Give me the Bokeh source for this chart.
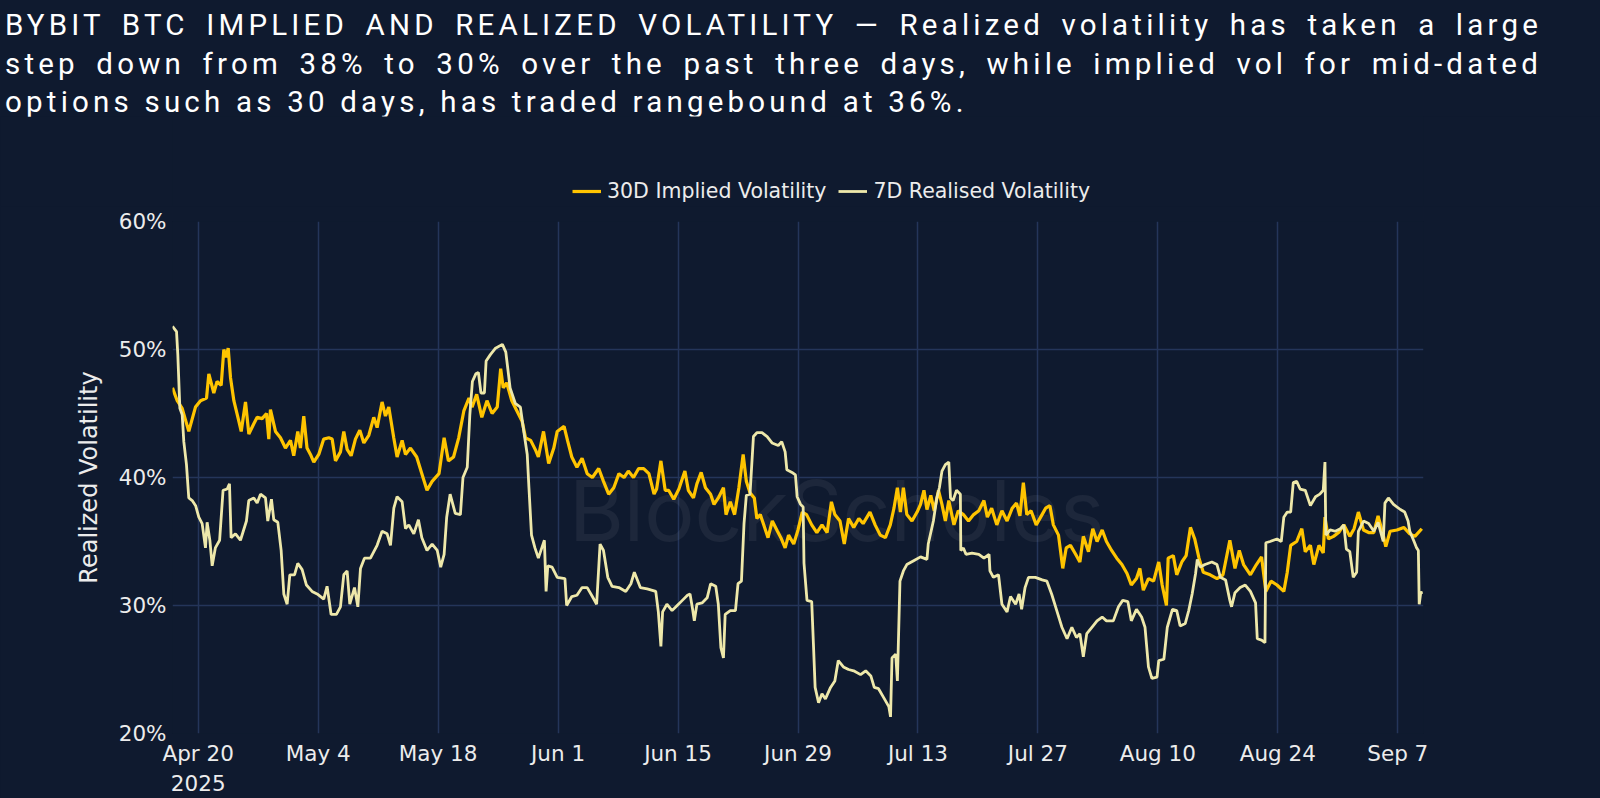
import pandas as pd

from bokeh.embed import file_html
from bokeh.layouts import column
from bokeh.models import (ColumnDataSource, Div, FixedTicker, GlobalInlineStyleSheet,
                          Label, Legend, LegendItem, PrintfTickFormatter, Range1d)
from bokeh.plotting import figure
from bokeh.resources import INLINE

# Series start (day offsets below are counted from here)
start_date = "2025-04-17"
end_date = "2025-09-10"

# 30D implied volatility (%)
iv_days = [0.0, 0.55, 1.13, 1.9, 2.68, 3.27, 3.97, 4.24, 4.82, 5.2, 5.68, 5.99, 6.26, 6.5, 6.77,
           7.16, 7.74, 8.02, 8.52, 8.91, 9.49, 9.88, 10.46, 10.97, 11.24, 11.43, 12.02, 12.6,
           13.18, 13.77, 14.15, 14.62, 14.93, 15.32, 15.7, 16.1, 16.49, 17.07, 17.65, 18.24,
           18.63, 19.02, 19.6, 19.99, 20.38, 20.85, 21.35, 21.86, 22.33, 22.91, 23.49, 23.88,
           24.46, 24.85, 25.24, 25.82, 26.21, 26.8, 27.19, 27.77, 28.5, 29.1, 29.7, 30.3, 31.1,
           31.7, 32.2, 32.8, 33.4, 34.0, 34.6, 34.96, 35.5, 36.1, 36.7, 37.3, 37.9, 38.3, 38.6,
           39.0, 39.6, 40.2, 40.8, 41.2, 41.8, 42.4, 42.7, 43.3, 43.9, 44.5, 44.9, 45.7, 46.1,
           46.6, 47.2, 47.8, 48.4, 49.0, 49.74, 50.3, 50.9, 51.5, 52.1, 52.7, 53.2, 53.8, 54.4,
           54.99, 55.6, 56.2, 56.5, 57.0, 57.5, 57.9, 58.5, 59.1, 59.8, 60.2, 60.8, 61.2, 61.7,
           62.2, 62.8, 63.2, 63.7, 64.3, 64.6, 65.1, 65.6, 66.1, 66.6, 66.97, 67.4, 67.9, 68.2,
           68.6, 69.0, 69.5, 70.0, 70.6, 71.0, 71.5, 71.9, 72.5, 73.0, 73.5, 74.0, 74.6, 75.2,
           75.8, 76.4, 76.9, 77.3, 77.9, 78.4, 78.9, 79.5, 80.1, 80.6, 81.4, 82.0, 82.6, 83.2,
           83.77, 84.2, 84.6, 84.95, 85.3, 85.7, 86.3, 86.9, 87.3, 87.7, 88.05, 88.5, 88.9, 89.4,
           89.8, 90.2, 90.6, 91.2, 91.7, 92.3, 92.9, 93.5, 94.1, 94.7, 95.1, 95.6, 96.2, 96.8,
           97.4, 98.0, 98.5, 98.9, 99.3, 99.7, 100.2, 100.8, 101.4, 101.9, 102.4, 102.8, 103.4,
           103.9, 104.3, 104.8, 105.4, 105.9, 106.3, 106.9, 107.4, 107.9, 108.5, 109.0, 109.6,
           110.2, 110.8, 111.4, 111.9, 112.5, 112.9, 113.3, 113.9, 114.5, 115.1, 115.5, 116.0,
           116.2, 116.8, 117.2, 117.8, 118.3, 118.8, 119.3, 119.8, 120.3, 121.1, 121.9, 122.6,
           123.4, 124.0, 124.5, 125.0, 125.8, 126.5, 127.1, 127.6, 128.2, 128.9, 129.7, 130.1,
           130.5, 131.2, 131.8, 132.2, 132.8, 133.2, 133.8, 134.3, 134.5, 134.9, 135.5, 136.1,
           136.7, 137.4, 137.9, 138.4, 139.0, 139.6, 140.2, 140.7, 141.3, 141.6, 142.1, 142.9,
           143.7, 144.4, 145.0, 145.8]
iv_vol = [47.0, 46.0, 45.4, 43.6, 45.5, 46.0, 46.2, 48.1, 46.6, 47.5, 47.2, 50.0, 49.4, 50.1, 47.8,
          46.0, 44.4, 43.6, 45.9, 43.4, 44.2, 44.7, 44.6, 45.0, 43.0, 45.3, 43.6, 43.1,
          42.3, 42.9, 41.7, 43.6, 42.3, 44.8, 42.3, 41.8, 41.2, 41.8, 43.0, 43.1,
          43.0, 41.3, 42.0, 43.6, 42.2, 41.7, 43.0, 43.7, 42.7, 43.3, 44.7, 43.9,
          45.9, 44.8, 45.5, 43.1, 41.6, 42.9, 41.8, 42.3, 41.6, 40.3, 39.0, 39.7, 40.3,
          43.1, 41.3, 41.6, 43.1, 45.2, 46.2, 45.5, 46.5, 44.7, 46.0, 45.0, 45.5, 48.5, 47.0,
          47.4, 46.0, 45.2, 44.4, 43.1, 42.9, 42.1, 41.6, 43.6, 41.1, 42.3, 43.6, 44.0, 42.9,
          41.6, 40.8, 41.5, 40.3, 40.0, 40.7, 39.7, 38.7, 39.2, 40.3, 40.0, 40.5, 40.0, 40.7,
          40.7, 40.3, 38.7, 39.1, 41.3, 39.0, 39.0, 38.3, 39.1, 40.5, 39.0, 38.4, 39.5, 40.4,
          39.2, 38.7, 37.9, 38.4, 39.2, 37.1, 38.1, 37.1, 39.2, 41.8, 39.7, 38.8, 38.4, 36.8,
          37.1, 36.3, 35.3, 36.6, 35.8, 35.3, 34.5, 35.5, 34.8, 35.9, 37.3, 37.1, 36.3, 35.7,
          36.3, 35.7, 38.1, 37.1, 36.6, 34.8, 36.8, 36.1, 36.8, 36.4, 37.3, 36.3, 35.5, 35.3,
          36.3, 37.6, 39.2, 37.3, 39.2, 37.1, 36.6, 37.3, 37.9, 39.0, 37.5, 38.6, 37.4, 39.0,
          37.9, 36.6, 38.2, 36.3, 37.4, 37.1, 36.6, 37.1, 37.4, 38.2, 36.9, 37.6, 36.3, 37.4,
          36.6, 37.6, 38.0, 37.0, 39.6, 37.1, 37.4, 36.3, 37.0, 37.6, 37.8, 36.3, 35.5,
          32.9, 34.5, 34.7, 34.0, 33.4, 35.4, 34.2, 36.0, 35.0, 35.9, 35.0, 34.3,
          33.7, 33.2, 32.5, 31.6, 32.1, 32.9, 31.2, 32.1, 31.9, 33.4, 31.6, 30.0,
          33.7, 33.9, 32.4, 33.4, 33.9, 36.1, 35.2, 33.7, 32.6, 32.4, 32.1, 32.4,
          35.1, 32.9, 34.3, 33.2, 32.4, 33.2, 33.8, 31.1, 31.9, 31.6, 31.1, 32.6,
          34.7, 35.0, 36.0, 34.2, 34.7, 33.2, 34.7, 34.1, 36.9, 35.2, 35.4, 35.7,
          36.3, 35.4, 36.0, 37.3, 35.9, 35.7, 35.7, 37.0, 35.5, 34.6, 35.8, 35.9,
          36.1, 35.6, 35.4, 36.0]

# 7D realised volatility (%)
rv_days = [0.0, 0.47, 0.62, 0.86, 1.13, 1.32, 1.63, 1.9, 2.3, 2.7, 3.07, 3.46, 3.85, 4.04, 4.36,
           4.63, 5.0, 5.5, 5.9, 6.38, 6.65, 6.84, 7.35, 7.93, 8.63, 8.9, 9.49, 9.88, 10.27,
           10.85, 11.12, 11.55, 11.82, 12.29, 12.68, 12.99, 13.38, 13.69, 14.24, 14.62, 15.13,
           15.63, 16.29, 16.88, 17.65, 18.04, 18.51, 19.13, 19.6, 19.99, 20.38, 20.69, 21.24,
           21.63, 21.94, 22.4, 23.1, 23.88, 24.46, 25.05, 25.44, 25.83, 26.21, 26.8, 27.19,
           27.58, 28.16, 28.7, 29.1, 29.7, 30.3, 30.9, 31.3, 31.7, 32.0, 32.4, 33.0, 33.6, 33.9,
           34.4, 34.7, 35.0, 35.4, 35.7, 36.0, 36.4, 36.6, 37.1, 37.7, 38.5, 38.9, 39.4, 40.0,
           40.6, 41.0, 41.4, 41.6, 41.9, 42.3, 42.7, 43.1, 43.4, 43.6, 43.8, 44.3, 44.9, 45.8,
           46.0, 46.6, 47.2, 47.8, 48.4, 49.0, 49.5, 49.9, 50.3, 50.8, 51.3, 52.1, 52.9, 53.5,
           53.9, 54.6, 55.4, 56.4, 56.7, 57.0, 57.2, 57.7, 58.3, 58.9, 59.5, 60.1, 60.4, 60.7,
           60.9, 61.2, 61.8, 62.4, 62.8, 63.4, 63.7, 64.0, 64.3, 64.5, 65.1, 65.7, 66.0, 66.4,
           66.7, 66.97, 67.4, 67.8, 68.2, 68.8, 69.4, 69.97, 70.7, 71.1, 71.5, 71.7, 72.3, 72.7,
           72.9, 73.3, 73.6, 73.7, 74.05, 74.6, 74.8, 75.0, 75.4, 75.8, 76.2, 76.8, 77.3, 77.7,
           78.3, 78.9, 79.5, 80.3, 80.9, 81.5, 81.9, 82.4, 83.0, 83.6, 83.8, 83.97, 84.4, 84.6,
           84.9, 85.3, 85.7, 86.5, 87.3, 88.05, 88.2, 88.8, 89.2, 89.5, 89.8, 90.2, 90.6, 90.8,
           91.1, 91.5, 91.95, 92.0, 92.3, 92.6, 93.3, 94.1, 94.7, 95.3, 95.4, 95.8, 96.4, 96.8,
           97.4, 97.8, 98.4, 98.8, 99.1, 99.5, 99.9, 100.7, 101.5, 102.05, 102.6, 103.2, 103.8,
           104.4, 104.96, 105.5, 105.9, 106.3, 106.7, 107.3, 107.9, 108.5, 109.0, 109.8, 110.4,
           110.9, 111.5, 111.9, 112.5, 113.1, 113.5, 113.9, 114.3, 114.9, 115.1, 115.7, 116.1,
           116.7, 117.2, 117.6, 118.2, 118.6, 119.0, 119.4, 119.6, 119.95, 120.5, 121.3, 121.9,
           122.3, 122.9, 123.4, 123.6, 124.0, 124.6, 125.2, 125.8, 126.4, 126.6, 127.1, 127.5,
           127.6, 128.1, 128.9, 129.4, 129.7, 130.1, 130.5, 130.8, 131.2, 131.6, 132.2, 132.8,
           133.4, 133.9, 134.3, 134.5, 134.6, 135.1, 135.7, 136.3, 136.7, 137.0, 137.4, 137.8,
           138.2, 138.4, 139.0, 139.6, 140.2, 140.7, 141.3, 141.5, 141.9, 142.5, 143.3, 143.8,
           144.2, 144.4, 144.9, 145.2, 145.4, 145.5, 145.7, 145.8]
rv_vol = [51.8, 51.4, 49.6, 45.4, 44.9, 42.8, 41.0, 38.4, 38.2, 37.8, 36.9, 36.4, 34.5, 36.5, 35.1,
          33.1, 34.5, 35.1, 39.0, 39.1, 39.5, 35.3, 35.6, 35.1, 36.6, 38.2, 38.4, 38.0, 38.7,
          38.4, 36.6, 38.3, 36.7, 36.5, 34.3, 30.9, 30.1, 32.4, 32.4, 33.3, 32.8,
          31.6, 31.1, 30.9, 30.5, 31.5, 29.3, 29.3, 29.9, 32.4, 32.7, 30.1, 31.4,
          29.9, 32.9, 33.7, 33.7, 34.7, 35.8, 35.6, 34.7, 37.6, 38.5, 38.1, 36.0,
          36.3, 35.6, 36.7, 35.3, 34.3, 34.8, 34.3, 33.0, 34.0, 36.9, 38.7, 37.2, 37.1, 40.0,
          40.8, 44.9, 47.5, 48.1, 48.2, 46.6, 46.6, 49.1, 49.6, 50.1, 50.4, 49.8, 47.0, 45.8,
          45.5, 43.6, 41.8, 39.2, 35.5, 34.5, 33.7, 34.5, 35.1, 31.1, 33.1, 33.0, 32.2, 32.1,
          30.0, 30.7, 30.8, 31.4, 31.4, 30.7, 30.1, 34.8, 34.3, 32.2, 31.5, 31.4, 31.1, 31.7,
          32.6, 31.4, 31.3, 31.1, 29.5, 26.8, 29.5, 30.1, 29.6, 30.0, 30.4, 30.8, 30.9, 29.7,
          28.8, 30.1, 30.2, 30.6, 31.7, 31.5, 30.1, 26.7, 25.9, 29.3, 29.6, 29.6, 31.7, 31.9,
          36.4, 38.6, 38.7, 43.2, 43.5, 43.5, 43.2, 42.7, 42.5, 42.8, 42.0, 40.6, 40.4, 40.2,
          38.5, 37.9, 37.7, 33.3, 30.4, 30.3, 27.0, 23.6, 22.4, 23.1, 22.7, 23.6, 24.1, 25.7,
          25.2, 25.0, 24.9, 24.6, 24.9, 24.5, 23.6, 23.5, 22.8, 22.1, 21.3, 25.9, 26.2, 24.1,
          31.9, 32.7, 33.2, 33.5, 33.8, 33.6, 34.8, 36.6, 38.4, 39.2, 40.5, 41.0, 41.2, 38.4,
          38.2, 39.0, 38.7, 34.3, 34.5, 34.0, 34.1, 34.0, 33.7, 34.0, 32.7, 32.2, 32.4, 30.1,
          29.5, 30.7, 30.1, 30.9, 29.7, 31.4, 32.2, 32.2, 32.0, 31.9, 30.9, 29.6, 28.3,
          27.4, 28.3, 27.5, 27.8, 26.0, 27.8, 28.3, 28.8, 29.1, 28.8, 28.8, 29.9,
          30.4, 30.3, 28.8, 29.7, 29.1, 28.3, 25.2, 24.3, 24.4, 25.7, 25.8, 28.3,
          29.7, 29.6, 28.4, 28.6, 29.6, 30.9, 32.5, 33.6, 33.0, 33.2, 33.4, 33.2,
          32.2, 32.0, 30.4, 29.9, 31.0, 31.4, 31.6, 31.1, 30.2, 27.4, 27.3, 27.1,
          34.9, 35.0, 35.2, 35.0, 36.9, 37.3, 37.3, 39.6, 39.7, 39.1, 39.0, 37.8,
          38.5, 38.7, 39.0, 41.2, 35.5, 35.9, 35.8, 36.0, 36.3, 34.4, 34.2, 32.2,
          32.6, 35.8, 36.6, 36.4, 35.8, 36.5, 35.0, 38.0, 38.4, 37.9, 37.5, 37.3,
          36.6, 35.8, 35.0, 34.5, 34.3, 30.1, 31.1, 30.9]

# Axis ticks
tick_dates = ["2025-04-20", "2025-05-04", "2025-05-18", "2025-06-01", "2025-06-15", "2025-06-29",
              "2025-07-13", "2025-07-27", "2025-08-10", "2025-08-24", "2025-09-07"]
tick_labels = ["Apr 20\n2025", "May 4", "May 18", "Jun 1", "Jun 15", "Jun 29",
               "Jul 13", "Jul 27", "Aug 10", "Aug 24", "Sep 7"]
y_ticks = [20, 30, 40, 50, 60]
y_grid = [30, 40, 50]

series_names = ["30D Implied Volatility", "7D Realised Volatility"]

title_lines = [
    "BYBIT BTC IMPLIED AND REALIZED VOLATILITY \u2014 Realized volatility has taken a large",
    "step down from 38% to 30% over the past three days, while implied vol for mid-dated",
    "options such as 30 days, has traded rangebound at 36%.",
]

BG = "#0f1a2f"
GRID = "#24355a"
IV_COLOR = "#ffc400"
RV_COLOR = "#eee8aa"
TEXT = "#ececec"

t0 = pd.Timestamp(start_date)
iv_src = ColumnDataSource(dict(date=t0 + pd.to_timedelta(iv_days, unit="D"), vol=iv_vol))
rv_src = ColumnDataSource(dict(date=t0 + pd.to_timedelta(rv_days, unit="D"), vol=rv_vol))
tick_ms = [pd.Timestamp(d).timestamp() * 1000 for d in tick_dates]
x_start, x_end = pd.Timestamp(start_date), pd.Timestamp(end_date)

# Title block: first two lines are fully justified, last line is left aligned
just = "text-align:justify;text-align-last:justify;"
html = (
    '<div style="position:relative;top:6px;margin-left:5px;width:1537px;color:white;'
    'font-family:Roboto;font-size:29.5px;letter-spacing:4.2px;line-height:38.5px;">'
    f'<div style="{just}">{title_lines[0]}</div>'
    f'<div style="{just}">{title_lines[1]}</div>'
    f'<div>{title_lines[2]}</div>'
    '</div>'
)
page_css = GlobalInlineStyleSheet(
    css=f"html, body {{ background-color: {BG}; margin: 0; overflow: hidden; }}")
title = Div(text=html, width=1600, height=116, margin=0, stylesheets=[page_css])


def base_figure(height, y_range, top, bottom):
    f = figure(
        frame_width=1251, height=height, x_axis_type="datetime",
        x_range=Range1d(x_start, x_end), y_range=y_range,
        min_border_left=172, min_border_right=177, min_border_top=top, min_border_bottom=bottom,
        background_fill_color=BG, border_fill_color=BG,
        output_backend="svg", toolbar_location=None,
    )
    f.outline_line_color = None
    return f


# Legend strip above the chart (its lines sit outside the strip's y range)
lf = base_figure(90, Range1d(100, 101), 0, 0)
lf.axis.visible = False
lf.grid.visible = False
k_iv = lf.line("date", "vol", source=iv_src, line_color=IV_COLOR, line_width=3.2)
k_rv = lf.line("date", "vol", source=rv_src, line_color=RV_COLOR, line_width=2.8)
legend = Legend(
    items=[LegendItem(label=series_names[0], renderers=[k_iv]),
           LegendItem(label=series_names[1], renderers=[k_rv])],
    orientation="horizontal", location=(400, 3),
    background_fill_alpha=0, border_line_color=None,
    label_text_font="DejaVu Sans", label_text_font_size="20.5px", label_text_color=TEXT,
    glyph_width=29, glyph_height=20, label_height=20, label_standoff=6,
    spacing=12, padding=5, margin=0,
)
lf.add_layout(legend)

p = base_figure(15 + 512 + 65, Range1d(20, 60), 15, 65)

# Watermark
p.add_layout(Label(
    x=(t0 + pd.Timedelta(days=77.5)).timestamp() * 1000, y=37.4,
    text="BlockScholes", text_font="Inter", text_font_size="84px",
    text_color="white", text_alpha=0.06, text_align="center",
    text_baseline="alphabetic", level="underlay",
))

p.line("date", "vol", source=iv_src, line_color=IV_COLOR, line_width=3.2)
p.line("date", "vol", source=rv_src, line_color=RV_COLOR, line_width=2.8)

# Axes
p.xaxis.ticker = FixedTicker(ticks=tick_ms)
p.xaxis.major_label_overrides = {t: lab for t, lab in zip(tick_ms, tick_labels)}
p.yaxis.ticker = FixedTicker(ticks=y_ticks)
p.yaxis.formatter = PrintfTickFormatter(format="%d%%")
p.yaxis.axis_label = "Realized Volatility"
for ax in (p.xaxis, p.yaxis):
    ax.axis_line_color = None
    ax.major_tick_line_color = None
    ax.minor_tick_line_color = None
    ax.major_label_text_font = "DejaVu Sans"
    ax.major_label_text_font_size = "21.5px"
    ax.major_label_text_color = TEXT
p.xaxis.major_label_standoff = 1
p.yaxis.major_label_standoff = 0
p.yaxis.axis_label_text_font = "DejaVu Sans"
p.yaxis.axis_label_text_font_size = "24px"
p.yaxis.axis_label_text_font_style = "normal"
p.yaxis.axis_label_text_color = TEXT
p.yaxis.axis_label_standoff = 13

p.xgrid.ticker = FixedTicker(ticks=tick_ms)
p.ygrid.ticker = FixedTicker(ticks=y_grid)
for g in (p.xgrid, p.ygrid):
    g.grid_line_color = GRID
    g.grid_line_width = 1.5

layout = column(title, lf, p)
open("out.html", "w").write(file_html(layout, INLINE))
